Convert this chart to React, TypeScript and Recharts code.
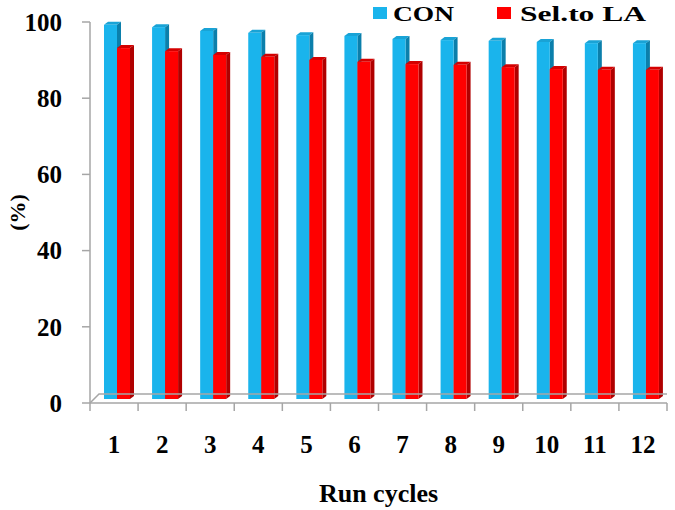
import React from "react";
import { Bar, BarChart, XAxis, YAxis } from "recharts";

const cycles = ["1", "2", "3", "4", "5", "6", "7", "8", "9", "10", "11", "12"];
const conValues = [98.2, 97.6, 96.6, 96.1, 95.5, 95.3, 94.5, 94.2, 94.0, 93.7, 93.4, 93.4];
const selValues = [92.1, 91.3, 90.3, 89.8, 89.0, 88.5, 87.9, 87.7, 87.1, 86.6, 86.4, 86.4];
const yTicks = [0, 20, 40, 60, 80, 100];

const data = cycles.map((c, i) => ({ cycle: c, con: conValues[i], sel: selValues[i] }));

const FONT = "'Liberation Serif', 'Times New Roman', serif";
const AXIS = "#a6a6a6";

// 3D-ish bar: front face shifted back onto the floor, plus side and top faces
function Bar3D(props: any) {
  const { x, y, width, height, fill, side, top } = props;
  const dx = 3;
  const dy = 4;
  const d = 4;
  const fx = x + dx;
  const fy = y - dy;
  return (
    <g>
      <polygon
        points={`${fx},${fy} ${fx + d},${fy - d + 1} ${fx + width + d},${fy - d + 1} ${fx + width},${fy}`}
        fill={top}
      />
      <polygon
        points={`${fx + width},${fy} ${fx + width + d},${fy - d + 1} ${fx + width + d},${fy + height - d + 1} ${fx + width},${fy + height}`}
        fill={side}
      />
      <rect x={fx} y={fy} width={width} height={height} fill={fill} />
    </g>
  );
}

function XTick(props: any) {
  const { x, y, payload, index, width, visibleTicksCount } = props;
  const n = visibleTicksCount || cycles.length;
  const band = width / n;
  const axisY = y - 8;
  return (
    <g>
      <line x1={x - band / 2} y1={axisY} x2={x - band / 2} y2={axisY + 8} stroke={AXIS} strokeWidth={1.5} />
      {index === n - 1 && (
        <line x1={x + band / 2} y1={axisY} x2={x + band / 2} y2={axisY + 8} stroke={AXIS} strokeWidth={1.5} />
      )}
      <text
        x={x}
        y={y + 24}
        dy="0.71em"
        textAnchor="middle"
        fontFamily={FONT}
        fontWeight="bold"
        fontSize={25}
        fill="#000"
      >
        {payload.value}
      </text>
    </g>
  );
}

function LegendBox() {
  return (
    <svg width={290} height={30} style={{ display: "block" }}>
      <rect x={0} y={7} width={14} height={12} fill="#1ab4ec" />
      <text x={20} y={21} fontFamily={FONT} fontWeight="bold" fontSize={22} fill="#000" textLength={61} lengthAdjust="spacingAndGlyphs">
        CON
      </text>
      <rect x={124} y={7} width={14} height={12} fill="#ff0000" />
      <text x={147} y={21} fontFamily={FONT} fontWeight="bold" fontSize={22} fill="#000" textLength={126} lengthAdjust="spacingAndGlyphs">
        Sel.to LA
      </text>
    </svg>
  );
}

export default function App() {
  return (
    <div style={{ position: "relative", width: 675, height: 510, background: "#fff" }}>
      <style>{`body{margin:0}`}</style>
      <BarChart
        width={675}
        height={510}
        data={data}
        margin={{ top: 22, right: 8, bottom: 0, left: 0 }}
        barGap={0}
        barSize={13}
      >
        <XAxis
          dataKey="cycle"
          height={107}
          axisLine={{ stroke: AXIS, strokeWidth: 1.5 }}
          tickLine={false}
          tick={<XTick />}
          interval={0}
          label={{
            value: "Run cycles",
            position: "insideBottom",
            offset: 8,
            style: { fontFamily: FONT, fontWeight: "bold", fontSize: 26, fill: "#000" },
          }}
        />
        <YAxis
          width={90}
          domain={[0, 100]}
          ticks={yTicks}
          interval={0}
          tickSize={8}
          tickMargin={20}
          axisLine={{ stroke: AXIS, strokeWidth: 1.5 }}
          tickLine={{ stroke: AXIS, strokeWidth: 1.5 }}
          tick={{ fontFamily: FONT, fontWeight: "bold", fontSize: 25, fill: "#000" }}
          label={{
            value: "(%)",
            angle: -90,
            position: "insideLeft",
            offset: 17,
            style: { fontFamily: FONT, fontWeight: "bold", fontSize: 22, fill: "#000", textAnchor: "middle" },
          }}
        />
        <Bar
          dataKey="con"
          fill="#1ab4ec"
          isAnimationActive={false}
          shape={(p: any) => <Bar3D {...p} fill="#1ab4ec" side="#0b7fab" top="#19a3d6" />}
        />
        <Bar
          dataKey="sel"
          fill="#ff0000"
          isAnimationActive={false}
          shape={(p: any) => <Bar3D {...p} fill="#ff0000" side="#b00000" top="#d40000" />}
        />
      </BarChart>
      <svg
        width={675}
        height={510}
        style={{ position: "absolute", left: 0, top: 0, pointerEvents: "none" }}
      >
        <polyline points="90,403 99,394 667,394" fill="none" stroke={AXIS} strokeWidth={1.5} />
      </svg>
      <div style={{ position: "absolute", left: 373, top: 0 }}>
        <LegendBox />
      </div>
    </div>
  );
}
